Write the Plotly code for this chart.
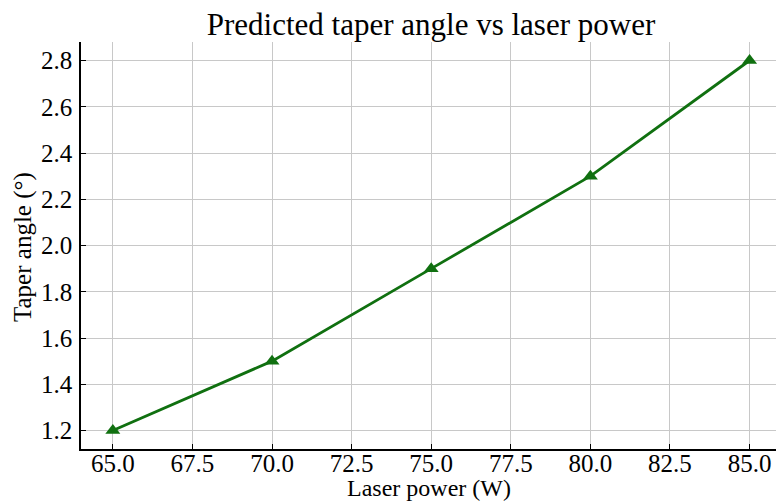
import plotly.graph_objects as go

laser_power = [65, 70, 75, 80, 85]
taper_angle = [1.2, 1.5, 1.9, 2.3, 2.8]
x_ticks = [65.0, 67.5, 70.0, 72.5, 75.0, 77.5, 80.0, 82.5, 85.0]
y_ticks = [1.2, 1.4, 1.6, 1.8, 2.0, 2.2, 2.4, 2.6, 2.8]

FONT = "Liberation Serif, Times New Roman, serif"
TICKFONT = dict(family=FONT, size=25, color="black")

fig = go.Figure()
fig.add_trace(go.Scatter(
    x=laser_power, y=taper_angle, mode="lines+markers",
    line=dict(color="#107010", width=2.8),
    marker=dict(symbol="triangle-up", size=13, color="#107010"),
    showlegend=False,
))

fig.update_layout(
    width=776, height=501,
    margin=dict(l=81, r=0, t=42, b=52),
    paper_bgcolor="white", plot_bgcolor="white",
    font=dict(family=FONT, size=25, color="black"),
    title=dict(text="Predicted taper angle vs laser power", x=431/776, xanchor="center",
               y=1 - 24/501, yanchor="middle", font=dict(family=FONT, size=31, color="black")),
    annotations=[
        dict(text="Laser power (W)", xref="paper", yref="paper", x=0.5, y=-(488 - 449) / 407,
             xanchor="center", yanchor="middle", showarrow=False,
             font=dict(family=FONT, size=24, color="black")),
        dict(text="Taper angle (°)", xref="paper", yref="paper", x=-(81 - 23) / 695, y=(449 - 247) / 407,
             xanchor="center", yanchor="middle", showarrow=False, textangle=-90,
             font=dict(family=FONT, size=25, color="black")),
    ],
)
fig.update_xaxes(
    range=[64.0, 85.83], tickvals=x_ticks, ticktext=[f"{v:.1f}" for v in x_ticks],
    tickfont=TICKFONT,
    showgrid=True, gridcolor="#c8c8c8", gridwidth=1,
    showline=True, linecolor="black", linewidth=1.5,
    ticks="inside", ticklen=5, tickcolor="black", tickwidth=1.2,
    zeroline=False, ticklabelstandoff=-9,
)
fig.update_yaxes(
    range=[1.12, 2.88], tickvals=y_ticks, ticktext=[f"{v:.1f}" for v in y_ticks],
    tickfont=TICKFONT,
    showgrid=True, gridcolor="#c8c8c8", gridwidth=1,
    showline=True, linecolor="black", linewidth=1.5,
    ticks="inside", ticklen=5, tickcolor="black", tickwidth=1.2,
    zeroline=False, ticklabelstandoff=2,
)

fig.write_html("out.html")
